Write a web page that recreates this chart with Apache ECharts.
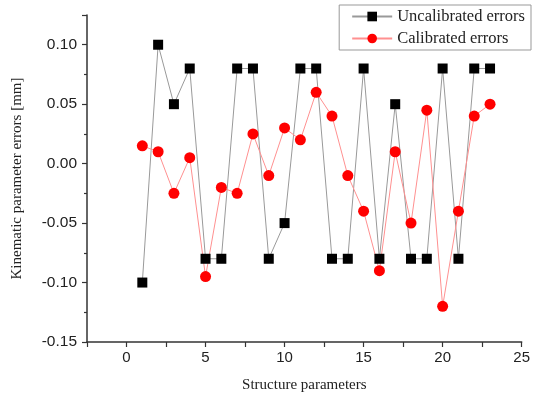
<!DOCTYPE html>
<html><head><meta charset="utf-8">
<script src="https://cdn.jsdelivr.net/npm/echarts@6/dist/echarts.min.js"></script>
<style>html,body{margin:0;padding:0;background:#fff}#c{width:533px;height:400px}</style>
</head><body><div id="c"></div>
<script>
const structureParams = [1,2,3,4,5,6,7,8,9,10,11,12,13,14,15,16,17,18,19,20,21,22,23];
const uncalibrated = [-0.10,0.10,0.05,0.08,-0.08,-0.08,0.08,0.08,-0.08,-0.05,0.08,0.08,-0.08,-0.08,0.08,-0.08,0.05,-0.08,-0.08,0.08,-0.08,0.08,0.08];
const calibrated = [0.015,0.01,-0.025,0.005,-0.095,-0.02,-0.025,0.025,-0.01,0.03,0.02,0.06,0.04,-0.01,-0.04,-0.09,0.01,-0.05,0.045,-0.12,-0.04,0.04,0.05];
const seriesNames = ['Uncalibrated errors','Calibrated errors'];

const chart = echarts.init(document.getElementById('c'));
const axisCol = '#333';
chart.setOption({
  animation:false,
  grid:{left:87,right:7,top:15,bottom:58},
  legend:{
    orient:'vertical', right:2, top:5,
    data:seriesNames,
    borderColor:'#999', borderWidth:1, borderRadius:0,
    padding:[3,6,3,12], itemGap:5,
    itemWidth:40, itemHeight:12,
    textStyle:{fontFamily:'Liberation Serif', fontSize:16.5, color:'#222'}
  },
  xAxis:{
    type:'value', min:-2.5, max:25, interval:2.5,
    name:'Structure parameters', nameLocation:'middle', nameGap:36,
    nameTextStyle:{fontFamily:'Liberation Serif', fontSize:15, color:'#222'},
    axisLine:{onZero:false,lineStyle:{color:axisCol,width:1.5}},
    axisTick:{show:true,length:5,lineStyle:{color:axisCol,width:1.2}},
    splitLine:{show:false},
    axisLabel:{fontFamily:'Liberation Sans', fontSize:15, color:'#222', margin:8,
      formatter:v=> (Math.abs(v%5)<1e-9 ? String(v) : '')}
  },
  yAxis:{
    type:'value', min:-0.15, max:0.125, interval:0.05,
    name:'Kinematic parameter errors [mm]', nameLocation:'middle', nameGap:62,
    nameTextStyle:{fontFamily:'Liberation Serif', fontSize:15, color:'#222'},
    axisLine:{show:true,onZero:false,lineStyle:{color:axisCol,width:1.5}},
    axisTick:{show:true,length:5,lineStyle:{color:axisCol,width:1.2}},
    minorTick:{show:true,splitNumber:2,length:3,lineStyle:{color:axisCol,width:1.2}},
    splitLine:{show:false},
    axisLabel:{fontFamily:'Liberation Sans', fontSize:15.5, color:'#222', margin:10,
      showMaxLabel:false, formatter:v=>v.toFixed(2)}
  },
  series:[
    {name:seriesNames[0], type:'line', data:structureParams.map((x,i)=>[x,uncalibrated[i]]),
     symbol:'rect', symbolSize:10,
     itemStyle:{color:'#000'}, lineStyle:{color:'#999',width:1}},
    {name:seriesNames[1], type:'line', data:structureParams.map((x,i)=>[x,calibrated[i]]),
     symbol:'circle', symbolSize:11,
     itemStyle:{color:'#ff0000'}, lineStyle:{color:'#ff9090',width:1}}
  ]
});
</script></body></html>
